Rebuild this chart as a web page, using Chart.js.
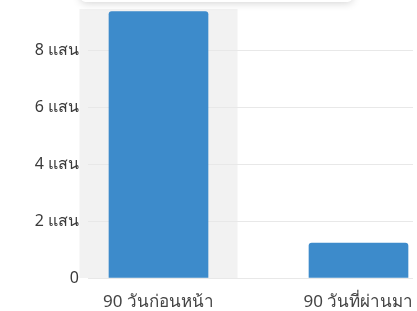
<!DOCTYPE html>
<html>
<head>
<meta charset="utf-8">
<script src="https://cdn.jsdelivr.net/npm/chart.js@4"></script>
<style>
    html, body { margin: 0; padding: 0; background: #fff; overflow: hidden; }
    #wrap { width: 417px; height: 311px; }
</style>
</head>
<body>
<div id="wrap"><canvas id="salesChart" width="417" height="311"></canvas></div>
<script>
// Chart data
const categories = ['90 วันก่อนหน้า', '90 วันที่ผ่านมา'];
const salesValues = [936000, 123000];
const yTicks = [0, 200000, 400000, 600000, 800000];
const yTickLabels = ['0', '2 แสน', '4 แสน', '6 แสน', '8 แสน'];

const barColor = '#3d8bcb';
const fontFamily = '"Noto Sans", "DejaVu Sans", sans-serif';

// Hover band behind the first bar plus the cut-off tooltip box at the top
const hoverPlugin = {
    id: 'hoverBand',
    beforeDraw(chart) {
        const ctx = chart.ctx;
        const x = chart.scales.x;
        const y = chart.scales.y;
        const center = x.getPixelForValue(0);
        ctx.save();
        ctx.fillStyle = '#f2f2f2';
        ctx.fillRect(center - 79, chart.chartArea.top, 158, y.getPixelForValue(0) - chart.chartArea.top);
        ctx.restore();
    },
    afterDraw(chart) {
        const ctx = chart.ctx;
        const center = chart.scales.x.getPixelForValue(0);
        ctx.save();
        ctx.shadowColor = 'rgba(0,0,0,0.18)';
        ctx.shadowBlur = 8;
        ctx.shadowOffsetY = 1;
        ctx.fillStyle = '#fff';
        ctx.beginPath();
        ctx.roundRect(center - 78, -40, 272, 42, 5);
        ctx.fill();
        ctx.restore();
    }
};

const ctx = document.getElementById('salesChart').getContext('2d');
const salesChart = new Chart(ctx, {
    type: 'bar',
    data: {
        datasets: [{
            label: 'ยอดขาย',
            data: categories.map((c, i) => ({ x: i, y: salesValues[i] })),
            backgroundColor: barColor,
            borderRadius: { topLeft: 3, topRight: 3 },
            borderSkipped: 'bottom',
            barThickness: 99
        }]
    },
    options: {
        responsive: false,
        animation: false,
        layout: { padding: { left: 0, right: 4, top: 9, bottom: 0 } },
        plugins: {
            legend: { display: false },
            tooltip: { enabled: false }
        },
        scales: {
            x: {
                type: 'linear',
                min: -0.3525,
                max: 1.2725,
                offset: false,
                grid: { display: false },
                border: { display: false },
                afterBuildTicks: axis => {
                    axis.ticks = categories.map((c, i) => ({ value: i }));
                },
                afterFit: axis => {
                    axis.height = 33;
                    axis.paddingLeft = 0;
                    axis.paddingRight = 0;
                },
                ticks: {
                    color: '#444',
                    padding: 6,
                    font: { family: fontFamily, size: 17 },
                    maxRotation: 0,
                    autoSkip: false,
                    callback: value => categories[value]
                }
            },
            y: {
                min: 0,
                max: 945000,
                border: { display: false },
                grid: { color: '#e8e8e8', drawTicks: false },
                afterBuildTicks: axis => {
                    axis.ticks = yTicks.map(v => ({ value: v }));
                },
                afterFit: axis => {
                    axis.width = 88;
                    axis.paddingTop = 0;
                    axis.paddingBottom = 0;
                },
                ticks: {
                    color: '#3a3a3a',
                    padding: 9,
                    font: { family: fontFamily, size: 16 },
                    callback: value => yTickLabels[yTicks.indexOf(value)]
                }
            }
        }
    },
    plugins: [hoverPlugin]
});
</script>
</body>
</html>
